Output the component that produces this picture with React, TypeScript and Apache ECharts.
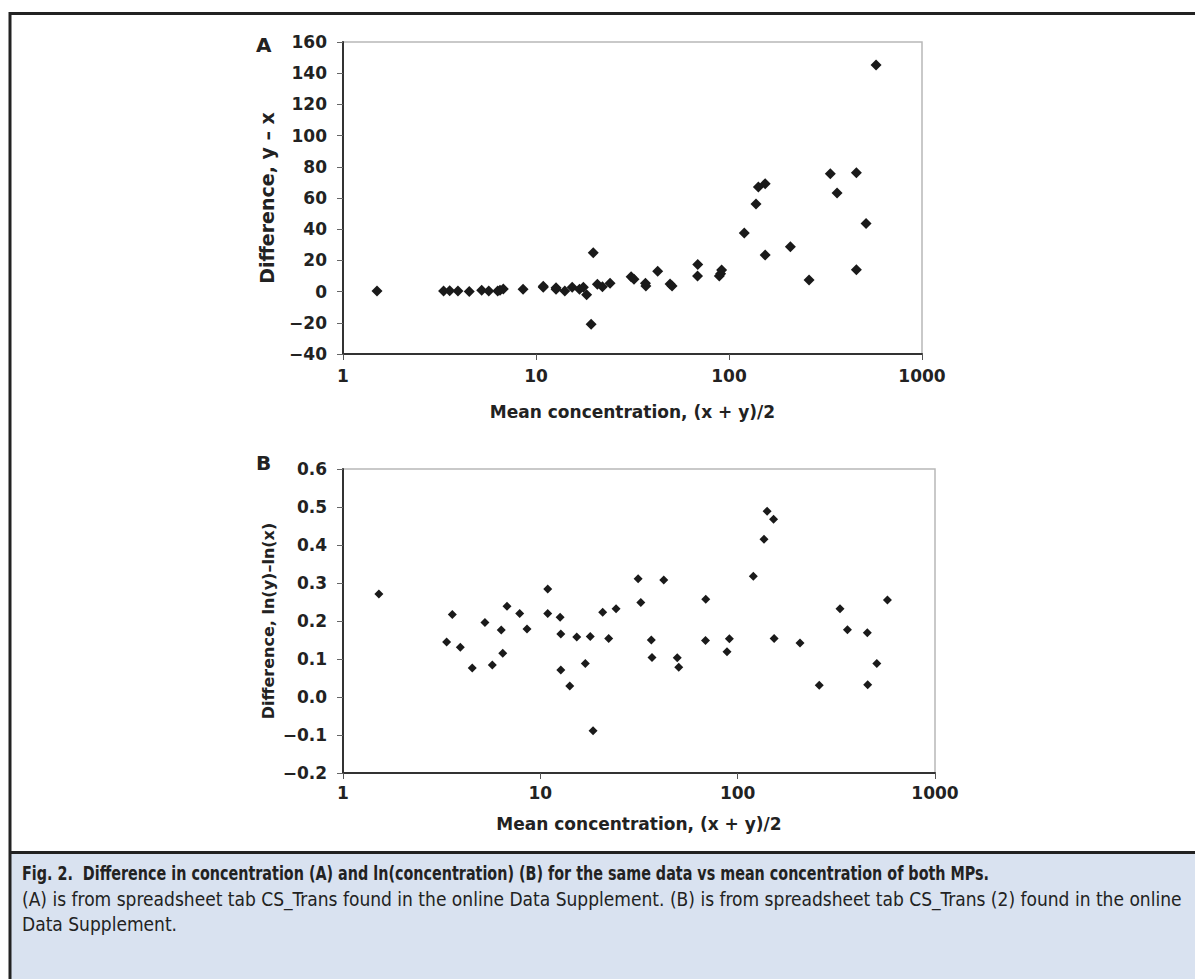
import React, { useEffect, useRef } from "react";
import * as echarts from "echarts";

const meanA = [1.5, 3.32, 3.57, 3.94, 4.51, 5.23, 5.69, 6.33, 6.51, 6.77, 8.57, 10.9, 10.9, 12.7, 12.7, 14.1, 15.4, 16.8, 17.6, 18.3, 19.3, 19.8, 20.8, 22.1, 24.2, 31.1, 32.2, 36.9, 37.1, 42.7, 49.5, 50.7, 68.7, 68.9, 89.1, 90.5, 91.6, 120, 138, 142, 154, 154, 208, 260, 335, 363, 457, 457, 513, 578];
const diffA = [0.4, 0.4, 0.6, 0.4, 0, 0.8, 0.4, 0.4, 0.8, 1.7, 1.5, 2.8, 3.5, 2.5, 1.5, 0.4, 2.8, 1.5, 2.8, -2.0, -20.9, 24.9, 4.7, 3.1, 5.3, 9.5, 7.9, 5.3, 3.6, 13, 4.9, 3.6, 10, 17.4, 10, 11.5, 13.8, 37.6, 56.2, 67, 69.2, 23.4, 28.7, 7.4, 75.6, 63.2, 76.2, 14, 43.6, 145.2];

const meanB = [1.52, 3.35, 3.58, 3.93, 4.52, 5.24, 5.71, 6.34, 6.45, 6.78, 7.86, 8.56, 10.9, 10.9, 12.6, 12.7, 12.7, 14.1, 15.3, 16.9, 17.9, 18.5, 20.7, 22.2, 24.2, 31.3, 32.3, 36.5, 36.8, 42.2, 49.4, 50.3, 68.7, 68.9, 88.3, 90.8, 120, 136, 141, 152, 153, 207, 259, 330, 360, 454, 456, 507, 574];
const lnDiffB = [0.271, 0.145, 0.217, 0.131, 0.076, 0.196, 0.084, 0.176, 0.115, 0.239, 0.22, 0.179, 0.284, 0.22, 0.21, 0.166, 0.071, 0.029, 0.158, 0.088, 0.159, -0.089, 0.223, 0.154, 0.232, 0.311, 0.249, 0.15, 0.104, 0.308, 0.103, 0.078, 0.149, 0.257, 0.119, 0.153, 0.318, 0.415, 0.489, 0.468, 0.154, 0.142, 0.031, 0.232, 0.177, 0.169, 0.032, 0.088, 0.255];

const xTicks = [1, 10, 100, 1000];
const yTicksA = [-40, -20, 0, 20, 40, 60, 80, 100, 120, 140, 160];
const yTicksB = [-0.2, -0.1, 0.0, 0.1, 0.2, 0.3, 0.4, 0.5, 0.6];

const panelLabels = ["A", "B"];
const xName = "Mean concentration, (x + y)/2";
const yNameA = "Difference, y \u2013 x";
const yNameB = "Difference, ln(y)\u2013ln(x)";
const captionTitle = "Fig. 2.  Difference in concentration (A) and ln(concentration) (B) for the same data vs mean concentration of both MPs.";
const captionLine2 = "(A) is from spreadsheet tab CS_Trans found in the online Data Supplement. (B) is from spreadsheet tab CS_Trans (2) found in the online";
const captionLine3 = "Data Supplement.";

const AXIS_FONT = "'DejaVu Sans', Verdana, sans-serif";
const CAP_FONT = "'Liberation Sans Narrow', 'DejaVu Sans Condensed', sans-serif";
const TXT = "#222222";

function minus(s: string) {
  return s.replace("-", "\u2212");
}

export default function App() {
  const ref = useRef<HTMLDivElement>(null);
  useEffect(() => {
    document.body.style.margin = "0";
    const chart = echarts.init(ref.current!, null, { renderer: "svg" });

    const xAxisCommon = (gridIndex: number, nameGap: number, labelMargin: number) => ({
      type: "log",
      logBase: 10,
      gridIndex,
      min: xTicks[0],
      max: xTicks[xTicks.length - 1],
      name: xName,
      nameLocation: "middle",
      nameGap,
      nameTextStyle: { fontFamily: AXIS_FONT, fontWeight: "bold", fontSize: 17, color: TXT },
      axisLine: { show: true, onZero: false, lineStyle: { color: "#333", width: 2 } },
      axisTick: { show: true, length: 6, lineStyle: { color: "#555", width: 1 } },
      minorTick: { show: false },
      splitLine: { show: false },
      axisLabel: {
        fontFamily: AXIS_FONT,
        fontWeight: "bold",
        fontSize: 17,
        color: TXT,
        margin: labelMargin,
        formatter: (v: number) => String(Math.round(v)),
      },
    });

    const yAxisCommon = (gridIndex: number, ticks: number[], name: string, dec: number, nameSize: number) => ({
      type: "value",
      gridIndex,
      min: ticks[0],
      max: ticks[ticks.length - 1],
      interval: Math.round((ticks[1] - ticks[0]) * 1000) / 1000,
      name,
      nameLocation: "middle",
      nameGap: 67,
      nameTextStyle: { fontFamily: AXIS_FONT, fontWeight: "bold", fontSize: nameSize, color: TXT },
      axisLine: { show: true, onZero: false, lineStyle: { color: "#333", width: 2 } },
      axisTick: { show: true, length: 6, lineStyle: { color: "#666", width: 1 } },
      splitLine: { show: false },
      axisLabel: {
        fontFamily: AXIS_FONT,
        fontWeight: "bold",
        fontSize: 17,
        color: TXT,
        margin: 16,
        formatter: (v: number) => minus(v.toFixed(dec)),
      },
    });

    const option: any = {
      animation: false,
      backgroundColor: "#ffffff",
      grid: [
        { left: 343, top: 42, width: 579, height: 312, show: true, borderColor: "#b8b8b8", borderWidth: 1.5, backgroundColor: "transparent" },
        { left: 343, top: 469, width: 592, height: 304, show: true, borderColor: "#b8b8b8", borderWidth: 1.5, backgroundColor: "transparent" },
      ],
      xAxis: [xAxisCommon(0, 49, 13), xAxisCommon(1, 42, 11)],
      yAxis: [yAxisCommon(0, yTicksA, yNameA, 0, 19), yAxisCommon(1, yTicksB, yNameB, 1, 16)],
      series: [
        {
          type: "scatter",
          xAxisIndex: 0,
          yAxisIndex: 0,
          symbol: "diamond",
          symbolSize: 11,
          itemStyle: { color: "#1a1a1a", opacity: 1 },
          data: meanA.map((m, i) => [m, diffA[i]]),
        },
        {
          type: "scatter",
          xAxisIndex: 1,
          yAxisIndex: 1,
          symbol: "diamond",
          symbolSize: 9,
          itemStyle: { color: "#1a1a1a", opacity: 1 },
          data: meanB.map((m, i) => [m, lnDiffB[i]]),
        },
      ],
      graphic: [
        { type: "rect", shape: { x: 11, y: 853, width: 1184, height: 126 }, style: { fill: "#d9e2f0" }, silent: true },
        { type: "line", shape: { x1: 10, y1: 12, x2: 10, y2: 979 }, style: { stroke: "#222", lineWidth: 3 }, silent: true },
        { type: "line", shape: { x1: 9, y1: 13.5, x2: 1195, y2: 13.5 }, style: { stroke: "#222", lineWidth: 3 }, silent: true },
        { type: "line", shape: { x1: 9, y1: 852.5, x2: 1195, y2: 852.5 }, style: { stroke: "#222", lineWidth: 3 }, silent: true },
        { type: "text", x: 256, y: 35, style: { text: panelLabels[0], font: `bold 20px ${AXIS_FONT}`, fill: TXT } },
        { type: "text", x: 256, y: 453, style: { text: panelLabels[1], font: `bold 20px ${AXIS_FONT}`, fill: TXT } },
        {
          type: "group",
          x: 22,
          y: 874,
          scaleX: 0.84,
          children: [
            { type: "text", x: 0, y: 0, style: { text: captionTitle, font: `bold 19px ${CAP_FONT}`, fill: TXT, verticalAlign: "middle" } },
          ],
        },
        { type: "text", x: 22, y: 899, style: { text: captionLine2, font: `19px ${CAP_FONT}`, fill: TXT, verticalAlign: "middle" } },
        { type: "text", x: 22, y: 924, style: { text: captionLine3, font: `19px ${CAP_FONT}`, fill: TXT, verticalAlign: "middle" } },
      ],
    };
    chart.setOption(option);
    return () => chart.dispose();
  }, []);
  return <div ref={ref} style={{ width: 1195, height: 979 }} />;
}
